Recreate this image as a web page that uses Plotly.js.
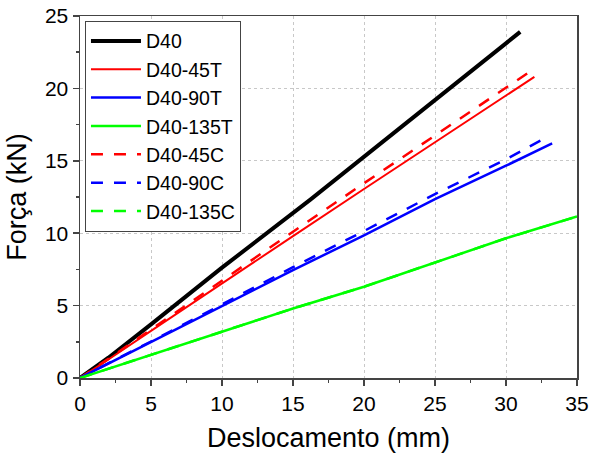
<!DOCTYPE html>
<html>
<head>
<meta charset="utf-8">
<script src="https://cdn.plot.ly/plotly-3.0.1.min.js"></script>
<style>html,body{margin:0;padding:0;background:#fff;}#chart{width:590px;height:456px;}</style>
</head>
<body>
<div id="chart"></div>
<script>
// Deslocamento (mm) and Força (kN)
const seriesNames = ["D40", "D40-45T", "D40-90T", "D40-135T", "D40-45C", "D40-90C", "D40-135C"];

const x_D40 = [0, 1, 2, 5, 10, 16.2, 20, 25, 30, 31];
const y_D40 = [0, 0.68, 1.4, 3.7, 7.62, 12.3, 15.3, 19.2, 23.15, 23.9];

const x_D40_45T = [0, 1, 2, 5, 10, 15, 20, 25, 30, 32];
const y_D40_45T = [0, 0.62, 1.28, 3.25, 6.55, 9.8, 13.05, 16.3, 19.5, 20.8];

const x_D40_90T = [0, 1, 5, 10, 15, 20, 25, 30, 33.25];
const y_D40_90T = [0, 0.5, 2.45, 4.95, 7.45, 9.85, 12.35, 14.66, 16.2];

const x_D40_135T = [0, 1, 5, 10, 15, 20, 25, 30, 35];
const y_D40_135T = [0, 0.32, 1.55, 3.2, 4.8, 6.3, 8.0, 9.65, 11.15];

const x_D40_45C = [0, 1, 2, 5, 10, 15, 20, 25, 30, 32.05];
const y_D40_45C = [0, 0.63, 1.32, 3.35, 6.75, 10.1, 13.45, 16.75, 20.0, 21.4];

const x_D40_90C = [0, 1, 5, 10, 15, 20, 25, 30, 32.85];
const y_D40_90C = [0, 0.52, 2.52, 5.1, 7.65, 10.15, 12.7, 15.1, 16.62];

const x_D40_135C = [0, 1, 5, 10, 15, 20, 25, 30, 35];
const y_D40_135C = [0, 0.32, 1.55, 3.2, 4.8, 6.3, 8.0, 9.65, 11.15];

const xs = [x_D40, x_D40_45T, x_D40_90T, x_D40_135T, x_D40_45C, x_D40_90C, x_D40_135C];
const ys = [y_D40, y_D40_45T, y_D40_90T, y_D40_135T, y_D40_45C, y_D40_90C, y_D40_135C];
const colors = ["#000000", "#ff0000", "#0000ff", "#00ff00", "#ff0000", "#0000ff", "#00ff00"];
const widths = [4, 2, 2.5, 2.5, 2.5, 2.5, 2.5];
const dashes = ["solid", "solid", "solid", "solid", "12px,11px", "12px,11px", "12px,11px"];

const traces = seriesNames.map((n, i) => ({
  x: xs[i], y: ys[i], name: n, type: "scatter", mode: "lines",
  line: {color: colors[i], width: widths[i], dash: dashes[i]}
}));

const font = "Liberation Sans, Arial, sans-serif";
const axisCommon = {
  showline: true, mirror: true, linecolor: "#444", linewidth: 1.5,
  ticks: "outside", ticklen: 6, tickwidth: 1.5, tickcolor: "#444",
  showgrid: true, gridcolor: "#c8c8c8", griddash: "dot", gridwidth: 1,
  zeroline: false,
  tickfont: {family: font, size: 21, color: "#000"},
  minor: {ticks: "outside", ticklen: 3, tickwidth: 1.5, tickcolor: "#444", showgrid: false}
};

const layout = {
  width: 590, height: 456,
  margin: {l: 80, r: 13, t: 16, b: 78},
  paper_bgcolor: "#fff", plot_bgcolor: "#fff",
  showlegend: true,
  legend: {
    x: 0.01, y: 0.987, xanchor: "left", yanchor: "top",
    bordercolor: "#444", borderwidth: 1, bgcolor: "#fff",
    font: {family: font, size: 19.5, color: "#000"},
    tracegroupgap: 0, itemwidth: 50
  },
  xaxis: Object.assign({}, axisCommon, {
    range: [0, 35], tickmode: "linear", tick0: 0, dtick: 5,
    minor: Object.assign({}, axisCommon.minor, {dtick: 2.5}),
    title: {text: "Deslocamento (mm)", font: {family: font, size: 27, color: "#000"}, standoff: 14}
  }),
  yaxis: Object.assign({}, axisCommon, {
    range: [0, 25], tickmode: "linear", tick0: 0, dtick: 5,
    minor: Object.assign({}, axisCommon.minor, {dtick: 2.5}),
    title: {text: "Força (kN)", font: {family: font, size: 27, color: "#000"}, standoff: 10}
  })
};

Plotly.newPlot("chart", traces, layout, {displayModeBar: false, staticPlot: true});
</script>
</body>
</html>
